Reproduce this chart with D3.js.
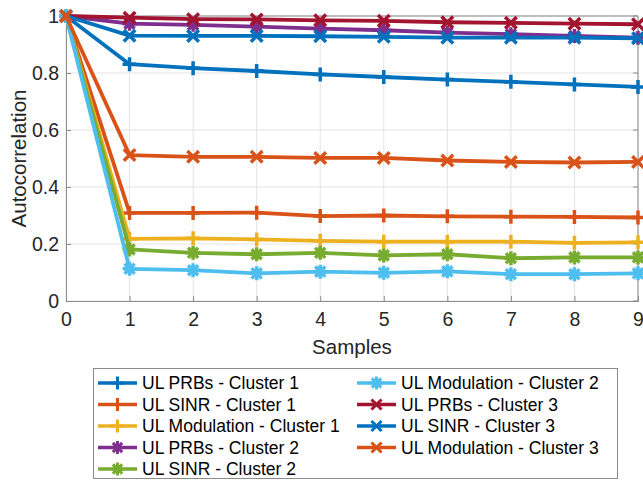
<!DOCTYPE html>
<html><head><meta charset="utf-8">
<script src="https://cdn.jsdelivr.net/npm/d3@7"></script>
<style>body{margin:0;background:#fff;} svg{display:block;font-family:"Liberation Sans",Arial,Helvetica,sans-serif;}</style>
</head><body>
<svg id="c" width="643" height="481"></svg>
<script>
const samples = [0,1,2,3,4,5,6,7,8,9];
const xTicks = [0,1,2,3,4,5,6,7,8,9];
const yTicks = [0,0.2,0.4,0.6,0.8,1];
const names = ["UL PRBs - Cluster 1","UL SINR - Cluster 1","UL Modulation - Cluster 1",
  "UL PRBs - Cluster 2","UL SINR - Cluster 2","UL Modulation - Cluster 2",
  "UL PRBs - Cluster 3","UL SINR - Cluster 3","UL Modulation - Cluster 3"];
const colors = ["#0072BD","#D95319","#EDB120","#7E2F8E","#77AC30","#4DBEEE","#A2142F","#0072BD","#D95319"];
const markers = ["plus","plus","plus","star","star","star","cross","cross","cross"];
const prbsC1 = [1,0.831,0.817,0.807,0.795,0.786,0.777,0.769,0.760,0.751];
const sinrC1 = [1,0.309,0.309,0.310,0.298,0.300,0.297,0.296,0.295,0.293];
const modC1  = [1,0.218,0.220,0.216,0.211,0.208,0.208,0.208,0.204,0.206];
const prbsC2 = [1,0.973,0.969,0.963,0.956,0.950,0.942,0.936,0.930,0.924];
const sinrC2 = [1,0.181,0.169,0.164,0.169,0.160,0.164,0.150,0.153,0.153];
const modC2  = [1,0.113,0.108,0.097,0.103,0.099,0.104,0.094,0.094,0.097];
const prbsC3 = [1,0.994,0.989,0.988,0.985,0.983,0.978,0.976,0.973,0.971];
const sinrC3 = [1,0.931,0.930,0.930,0.929,0.927,0.924,0.924,0.924,0.922];
const modC3  = [1,0.512,0.506,0.506,0.502,0.502,0.493,0.488,0.486,0.488];
const series = [prbsC1,sinrC1,modC1,prbsC2,sinrC2,modC2,prbsC3,sinrC3,modC3];

const svg = d3.select("#c");
const L=66, R=638, T=16, B=301;
const x = d3.scaleLinear().domain([0,9]).range([L,R]);
const y = d3.scaleLinear().domain([0,1]).range([B,T]);
const axisCol = "#262626";

// grid
const g = svg.append("g");
g.selectAll("line.gx").data(xTicks).join("line")
  .attr("x1",d=>x(d)).attr("x2",d=>x(d)).attr("y1",T).attr("y2",B)
  .attr("stroke","#e3e3e3").attr("stroke-width",1);
g.selectAll("line.gy").data(yTicks).join("line")
  .attr("x1",L).attr("x2",R).attr("y1",d=>y(d)).attr("y2",d=>y(d))
  .attr("stroke","#e3e3e3").attr("stroke-width",1);

// box (top/right)
svg.append("line").attr("x1",L).attr("x2",R).attr("y1",T).attr("y2",T).attr("stroke","#8c8c8c").attr("stroke-width",1);
svg.append("line").attr("x1",R).attr("x2",R).attr("y1",T).attr("y2",B).attr("stroke","#8c8c8c").attr("stroke-width",1);
svg.selectAll("line.rt").data(yTicks).join("line")
  .attr("x1",R-5).attr("x2",R).attr("y1",d=>y(d)).attr("y2",d=>y(d)).attr("stroke","#8c8c8c");

// axes
const xAxis = d3.axisBottom(x).tickValues(xTicks).tickSize(-5).tickPadding(11).tickFormat(d3.format("d"));
const yAxis = d3.axisLeft(y).tickValues(yTicks).tickSize(-5).tickPadding(7).tickFormat(d=>d===0||d===1?String(d):d3.format(".1f")(d));
const gx = svg.append("g").attr("transform",`translate(0,${B})`).call(xAxis);
const gy = svg.append("g").attr("transform",`translate(${L},0)`).call(yAxis);
[gx,gy].forEach(a=>{
  a.select(".domain").attr("stroke","#8c8c8c");
  a.selectAll(".tick line").attr("stroke","#8c8c8c");
  a.selectAll(".tick text").attr("fill",axisCol).style("font-size","19.5px").style("font-family","'Liberation Sans',Arial,sans-serif");
});

function markerPath(type, s){
  const h=s/2, d=h*0.72;
  if(type==="plus") return `M${-h},0H${h}M0,${-h}V${h}`;
  if(type==="cross") return `M${-d},${-d}L${d},${d}M${-d},${d}L${d},${-d}`;
  return `M${-h},0H${h}M0,${-h}V${h}M${-d},${-d}L${d},${d}M${-d},${d}L${d},${-d}`;
}

const line = d3.line().x((d,i)=>x(samples[i])).y(d=>y(d));
series.forEach((s,k)=>{
  const gs = svg.append("g");
  gs.append("path").datum(s).attr("d",line).attr("fill","none")
    .attr("stroke",colors[k]).attr("stroke-width",3.8).attr("stroke-linejoin","round");
  gs.selectAll("path.m").data(s).join("path")
    .attr("transform",(d,i)=>`translate(${x(samples[i])},${y(d)})`)
    .attr("d",markerPath(markers[k],markers[k]==="cross"?16:14))
    .attr("fill","none").attr("stroke",colors[k]).attr("stroke-width",3.5);
});

svg.append("text").attr("x",(L+R)/2).attr("y",354).attr("text-anchor","middle")
  .attr("fill",axisCol).style("font-size","20.5px").text("Samples");
svg.append("text").attr("transform",`translate(26,${(T+B)/2}) rotate(-90)`).attr("text-anchor","middle")
  .attr("fill",axisCol).style("font-size","20.5px").text("Autocorrelation");

// legend
const lg = svg.append("g");
lg.append("rect").attr("x",93.5).attr("y",368.5).attr("width",524).attr("height",110)
  .attr("fill","#fff").attr("stroke","#8c8c8c").attr("stroke-width",1);
const rowY = [383,404.5,426,447.5,469];
names.forEach((n,k)=>{
  const col = k<5?0:1, row = k<5?k:k-5;
  const x0 = col===0?98:357, yy = rowY[row];
  lg.append("line").attr("x1",x0).attr("x2",x0+39).attr("y1",yy).attr("y2",yy)
    .attr("stroke",colors[k]).attr("stroke-width",3.5);
  lg.append("path").attr("transform",`translate(${x0+19.5},${yy})`)
    .attr("d",markerPath(markers[k],markers[k]==="cross"?14:13)).attr("fill","none")
    .attr("stroke",colors[k]).attr("stroke-width",3);
  lg.append("text").attr("x",x0+44).attr("y",yy+6).attr("fill","#000")
    .style("font-size","17.5px").text(n);
});
</script>
</body></html>
